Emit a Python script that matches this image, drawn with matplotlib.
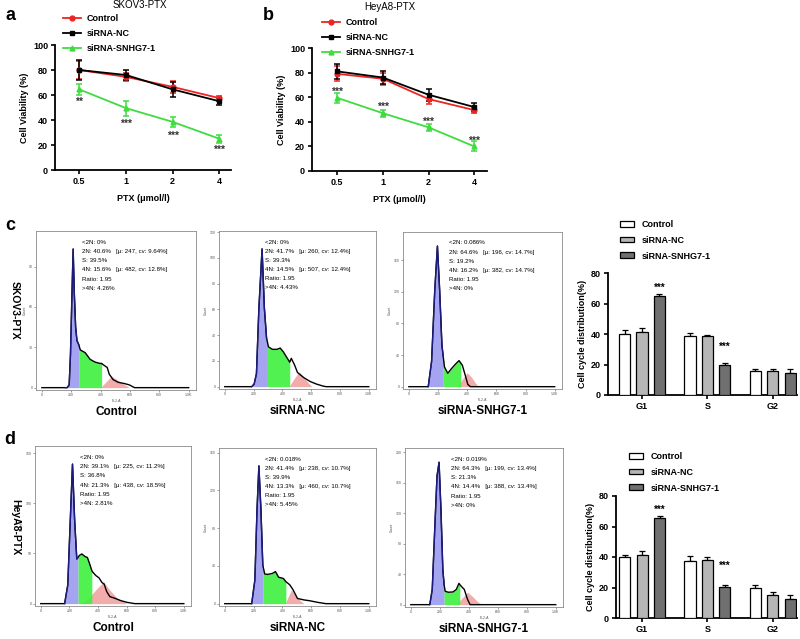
import matplotlib
matplotlib.use('Agg')
import matplotlib.pyplot as plt
from matplotlib.lines import Line2D
import numpy as np

plt.rcParams['font.family'] = ['Liberation Sans', 'DejaVu Sans']

W, H = 800, 639

doses = ['0.5', '1', '2', '4']
groups = ['Control', 'siRNA-NC', 'siRNA-SNHG7-1']
phases = ['G1', 'S', 'G2']

# a: SKOV3-PTX viability
skov_ctrl = [80, 74.5, 66.5, 57.5]
skov_ctrl_err = [7, 3, 5, 2]
skov_nc = [80, 76, 64.5, 55]
skov_nc_err = [8, 4, 6, 3]
skov_si = [64.5, 49.5, 38.5, 25]
skov_si_err = [4.5, 6, 4, 3]
skov_stars = ['**', '***', '***', '***']
skov_star_y = [54.5, 37, 27, 16]

# b: HeyA8-PTX viability
heya_ctrl = [79, 75, 58.5, 49.5]
heya_ctrl_err = [6, 5, 4, 2]
heya_nc = [81, 76, 62, 52]
heya_nc_err = [6, 5, 5, 3]
heya_si = [59.5, 47, 35.5, 20]
heya_si_err = [4, 3, 3, 4]
heya_stars = ['***', '***', '***', '***']
heya_star_y = [64, 52.5, 40, 24.5]

# c / d: cell cycle bars (Control, siRNA-NC, siRNA-SNHG7-1)
skov_cyc = [[40, 38.5, 15.5], [41.5, 38.5, 15.5], [65, 19.5, 14.5]]
skov_cyc_err = [[2.4, 2.2, 1.8], [2.2, 0.9, 1.7], [1.1, 1.3, 2.6]]
skov_cyc_star = [70, 31.5]
heya_cyc = [[40, 37.7, 19.5], [41.2, 38, 14.9], [65.5, 20.2, 12.7]]
heya_cyc_err = [[1.3, 2.8, 2], [2.6, 2, 2.2], [1.3, 1.3, 2.2]]
heya_cyc_star = [71, 34]

# flow histograms (FL2-A vs count)
c1_x = [0, 160, 172, 186, 195, 204, 213, 221, 230, 239, 251, 262, 295, 329, 362, 396, 407, 418, 445, 459, 485, 519, 564, 597, 631, 1000]
c1_y = [0, 0, 0, 2, 25, 65, 103, 70, 45, 35, 32, 28, 26, 21, 19, 18, 18, 17, 15, 10, 6, 4, 3, 2, 0, 0]
c1_cut = [160, 251, 407]
c1_red_x = [400, 430, 474, 510, 550, 597]
c1_red_y = [0, 3.5, 8.5, 6, 3, 0]

c2_x = [0, 187, 204, 220, 237, 259, 275, 290, 303, 330, 363, 385, 407, 429, 451, 462, 484, 505, 549, 593, 637, 681, 703, 1000]
c2_y = [0, 0, 2, 10, 61, 107, 61, 38, 31, 29, 29, 30, 27, 23, 19, 22, 17, 11, 7, 4, 2, 0.5, 0, 0]
c2_cut = [187, 290, 451]
c2_red_x = [446, 480, 516, 550, 580, 604]
c2_red_y = [0, 6, 11.5, 7, 3, 0]

c3_x = [0, 133, 156, 178, 196, 211, 227, 236, 244, 267, 293, 322, 344, 356, 367, 389, 404, 422, 1000]
c3_y = [0, 0, 32, 123, 178, 123, 52, 38, 25, 17, 23, 29, 33, 30, 27, 13, 3, 0, 0]
c3_cut = [133, 236, 356]
c3_red_x = [333, 365, 400, 430, 455, 478]
c3_red_y = [0, 9, 17.6, 12, 5, 0]

d1_x = [0, 167, 189, 204, 222, 237, 252, 261, 270, 287, 309, 326, 341, 357, 363, 385, 407, 428, 443, 461, 483, 515, 559, 602, 657, 1000]
d1_y = [0, 0, 18.5, 74, 139, 83, 44.5, 46, 48, 49.5, 47, 46, 40, 33, 31.5, 28, 25.7, 21, 19.5, 12, 7, 5.5, 3, 1.3, 0, 0]
d1_cut = [167, 261, 357]
d1_red_x = [287, 330, 380, 439, 480, 530, 602]
d1_red_y = [0, 5, 13, 21.8, 14, 6, 0]

d2_x = [0, 187, 209, 224, 237, 251, 264, 277, 297, 330, 352, 374, 407, 424, 451, 473, 505, 549, 593, 648, 703, 1000]
d2_y = [0, 0, 25, 100, 146, 100, 41, 31.5, 31, 32, 34, 28, 26.7, 23.4, 20, 15, 5.5, 4, 3, 1.3, 0, 0]
d2_cut = [187, 264, 424]
d2_red_x = [418, 440, 462, 490, 520, 549]
d2_red_y = [0, 7, 14.6, 9, 4, 0]

d3_x = [0, 131, 148, 166, 181, 195, 208, 221, 230, 237, 259, 292, 314, 332, 338, 352, 369, 392, 409, 1000]
d3_y = [0, 0, 20, 103, 169, 187, 125, 46, 26, 17.6, 16.3, 16.7, 20, 28, 26.4, 23.3, 20, 6.6, 0, 0]
d3_cut = [131, 230, 338]
d3_red_x = [314, 350, 392, 430, 460, 491]
d3_red_y = [0, 8, 16.3, 10, 4, 0]

c1_stats = ['<2N: 0%', '2N: 40.6%   [\u03bc: 247, cv: 9.64%]', 'S: 39.5%', '4N: 15.6%   [\u03bc: 482, cv: 12.8%]', 'Ratio: 1.95', '>4N: 4.26%']
c2_stats = ['<2N: 0%', '2N: 41.7%   [\u03bc: 260, cv: 12.4%]', 'S: 39.3%', '4N: 14.5%   [\u03bc: 507, cv: 12.4%]', 'Ratio: 1.95', '>4N: 4.43%']
c3_stats = ['<2N: 0.086%', '2N: 64.6%   [\u03bc: 196, cv: 14.7%]', 'S: 19.2%', '4N: 16.2%   [\u03bc: 382, cv: 14.7%]', 'Ratio: 1.95', '>4N: 0%']
d1_stats = ['<2N: 0%', '2N: 39.1%   [\u03bc: 225, cv: 11.2%]', 'S: 36.8%', '4N: 21.3%   [\u03bc: 438, cv: 18.5%]', 'Ratio: 1.95', '>4N: 2.81%']
d2_stats = ['<2N: 0.018%', '2N: 41.4%   [\u03bc: 238, cv: 10.7%]', 'S: 39.9%', '4N: 13.3%   [\u03bc: 460, cv: 10.7%]', 'Ratio: 1.95', '>4N: 5.45%']
d3_stats = ['<2N: 0.019%', '2N: 64.3%   [\u03bc: 199, cv: 13.4%]', 'S: 21.3%', '4N: 14.4%   [\u03bc: 388, cv: 13.4%]', 'Ratio: 1.95', '>4N: 0%']

RED = '#ec2424'
GREEN = '#3fdc3f'
BOLD = dict(fontweight='bold')

fig = plt.figure(figsize=(W / 100, H / 100), dpi=100)


def rect(l, t, r, b):
    return [l / W, 1 - b / H, (r - l) / W, (b - t) / H]


def ftext(x, y, s, **kw):
    fig.text(x / W, 1 - y / H, s, **kw)


def style_axes(ax):
    for side in ['top', 'right']:
        ax.spines[side].set_visible(False)
    for side in ['left', 'bottom']:
        ax.spines[side].set_linewidth(1.3)
    ax.tick_params(width=1.2, length=3, labelsize=6.5, pad=2)
    for lab in ax.get_xticklabels() + ax.get_yticklabels():
        lab.set_fontweight('bold')


def viability(box, ctrl, ctrl_err, nc, nc_err, si, si_err, stars, star_y, xlim, leg_xy):
    ax = fig.add_axes(rect(*box))
    pos = np.arange(len(doses))
    kw = dict(lw=1.3, capsize=2.2, elinewidth=1.1, capthick=1.1, ms=3.5, clip_on=False)
    ax.errorbar(pos, ctrl, yerr=ctrl_err, color=RED, marker='o', **kw)
    ax.errorbar(pos, nc, yerr=nc_err, color='black', marker='s', **kw)
    ax.errorbar(pos, si, yerr=si_err, color=GREEN, marker='^', **kw)
    for p, s, y in zip(pos, stars, star_y):
        ax.text(p, y, s, ha='center', va='center', fontsize=7.5, fontweight='bold', color='#333333')
    ax.set_xlim(*xlim)
    ax.set_ylim(0, 100)
    ax.set_xticks(pos, doses)
    ax.set_yticks(range(0, 101, 20))
    style_axes(ax)
    ax.set_ylabel('Cell Viability (%)', fontsize=6.5, labelpad=3, **BOLD)
    ax.set_xlabel('PTX (\u03bcmol/l)', fontsize=6.5, labelpad=6, **BOLD)
    handles = [Line2D([], [], color=c, marker=m, ms=3.5, lw=1.3)
               for c, m in zip([RED, 'black', GREEN], ['o', 's', '^'])]
    leg = ax.legend(handles, groups, loc='upper left', bbox_to_anchor=leg_xy,
                    bbox_transform=fig.transFigure, frameon=False, fontsize=6.5,
                    handlelength=2.0, handletextpad=0.6, labelspacing=0.65,
                    borderpad=0, borderaxespad=0)
    for t in leg.get_texts():
        t.set_fontweight('bold')
    return ax


def cycle(box, vals, errs, star_y, xlim, leg_xy):
    ax = fig.add_axes(rect(*box))
    pos = np.arange(len(phases))
    colors = ['white', '#b6b6b6', '#707070']
    offs = [-0.267, 0, 0.267]
    for v, e, c, o, g in zip(vals, errs, colors, offs, groups):
        ax.errorbar(pos + o, v, yerr=[np.zeros(len(e)), e], fmt='none', ecolor='black',
                    elinewidth=0.9, capsize=2.3, capthick=0.9)
        ax.bar(pos + o, v, width=0.17, color=c, edgecolor='black', lw=0.9, label=g, zorder=3)
    ax.text(pos[0] + offs[2], star_y[0], '***', ha='center', va='center', fontsize=7, **BOLD)
    ax.text(pos[1] + offs[2], star_y[1], '***', ha='center', va='center', fontsize=7, **BOLD)
    ax.set_xlim(*xlim)
    ax.set_ylim(0, 80)
    ax.set_xticks(pos, phases)
    ax.set_yticks(range(0, 81, 20))
    style_axes(ax)
    ax.set_ylabel('Cell cycle distribution(%)', fontsize=6.5, labelpad=3, **BOLD)
    leg = ax.legend(loc='upper left', bbox_to_anchor=leg_xy, bbox_transform=fig.transFigure,
                    frameon=False, fontsize=6.5, handlelength=1.5, handleheight=0.6,
                    handletextpad=0.9, labelspacing=0.75, borderpad=0, borderaxespad=0)
    for t in leg.get_texts():
        t.set_fontweight('bold')
    return ax


def flow_hist(box, x, y, cut, red_x, red_y, step, stats, name):
    ax = fig.add_axes(rect(*box))
    x = np.array(x, dtype=float)
    y = np.array(y, dtype=float)
    ax.fill_between(red_x, red_y, color='#f09090', alpha=0.75, lw=0)
    blue = (x >= cut[0]) & (x <= cut[1])
    green = (x >= cut[1]) & (x <= cut[2])
    ax.fill_between(x, y, where=blue, color='#9a9af0', alpha=0.9, lw=0)
    ax.fill_between(x, y, where=green, color='#3ef03e', alpha=0.9, lw=0)
    ax.plot(x, y, color='black', lw=1.0)
    ax.plot(x[blue], y[blue], color='#1c1c80', lw=1.0)
    ax.set_xlim(-40, 1050)
    top = max(y) * 1.13 if max(y) < 150 else max(y) * 1.1
    ax.set_ylim(-top * 0.015, top)
    ax.set_xticks([0, 200, 400, 600, 800, 1000], ['0', '200', '400', '600', '800', '1.0K'])
    ax.set_yticks(np.arange(0, top, step))
    ax.tick_params(labelsize=2.5, length=1.5, width=0.4, pad=1, colors='#555555')
    for s in ax.spines.values():
        s.set_linewidth(0.6)
        s.set_color('#8a8a8a')
    ax.set_xlabel('FL2-A', fontsize=2.5, labelpad=1, color='#555555')
    ax.set_ylabel('Count', fontsize=2.5, labelpad=1, color='#555555')
    for i, line in enumerate(stats):
        ax.text(0.29, 0.93 - i * 0.058, line, transform=ax.transAxes, fontsize=4.4, va='center')
    cx = (box[0] + box[2]) / 2
    ftext(cx, box[3] + 22, name, ha='center', va='center', fontsize=8.5, **BOLD)
    return ax


# panel a / b
viability((55, 45, 231, 170), skov_ctrl, skov_ctrl_err, skov_nc, skov_nc_err, skov_si, skov_si_err,
          skov_stars, skov_star_y, (-0.52, 3.25), (63 / W, 1 - 14 / H))
viability((312, 48, 487, 171), heya_ctrl, heya_ctrl_err, heya_nc, heya_nc_err, heya_si, heya_si_err,
          heya_stars, heya_star_y, (-0.55, 3.28), (322 / W, 1 - 18 / H))
ftext(140, 5, 'SKOV3-PTX', ha='center', va='center', fontsize=7)
ftext(390, 7, 'HeyA8-PTX', ha='center', va='center', fontsize=7)

# panel c
flow_hist((36, 231, 196, 390), c1_x, c1_y, c1_cut, c1_red_x, c1_red_y, 30, c1_stats, 'Control')
flow_hist((219, 231, 376, 389), c2_x, c2_y, c2_cut, c2_red_x, c2_red_y, 20, c2_stats, 'siRNA-NC')
flow_hist((403, 232, 562, 389), c3_x, c3_y, c3_cut, c3_red_x, c3_red_y, 40, c3_stats, 'siRNA-SNHG7-1')
cycle((608, 273, 797, 395), skov_cyc, skov_cyc_err, skov_cyc_star, (-0.52, 2.37), (620 / W, 1 - 220 / H))

# panel d
flow_hist((35, 446, 191, 606), d1_x, d1_y, d1_cut, d1_red_x, d1_red_y, 50, d1_stats, 'Control')
flow_hist((219, 448, 376, 606), d2_x, d2_y, d2_cut, d2_red_x, d2_red_y, 40, d2_stats, 'siRNA-NC')
flow_hist((405, 448, 563, 607), d3_x, d3_y, d3_cut, d3_red_x, d3_red_y, 40, d3_stats, 'siRNA-SNHG7-1')
cycle((616, 496, 797, 618), heya_cyc, heya_cyc_err, heya_cyc_star, (-0.40, 2.37), (629 / W, 1 - 452 / H))

ftext(15, 310, 'SKOV3-PTX', rotation=270, ha='center', va='center', fontsize=7.5, **BOLD)
ftext(15, 527, 'HeyA8-PTX', rotation=270, ha='center', va='center', fontsize=7.5, **BOLD)

for letter, x, y in [('a', 10, 15), ('b', 268, 15), ('c', 10, 226), ('d', 10, 439)]:
    ftext(x, y, letter, ha='center', va='center', fontsize=13, **BOLD)

fig.savefig('out.png', dpi=100)
